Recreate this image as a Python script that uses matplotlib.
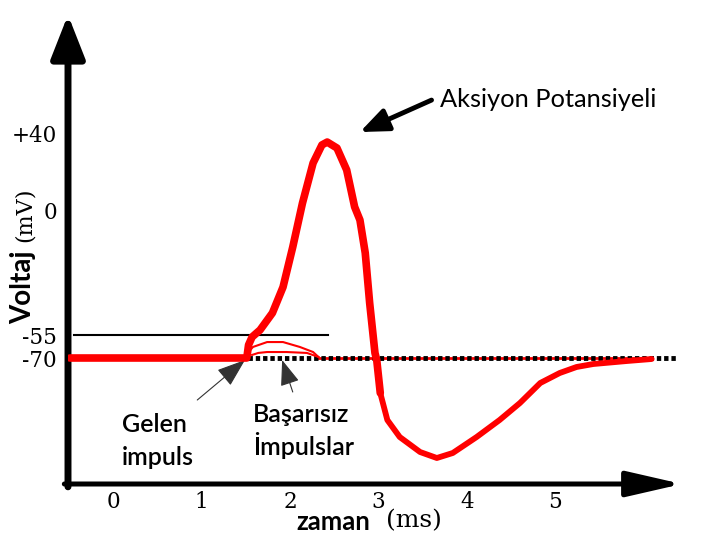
import numpy as np
import matplotlib
matplotlib.use("Agg")
import matplotlib.pyplot as plt

# ---------------- data (time in ms, voltage in mV) ----------------
ap_time = [-0.49, 1.51, 1.53, 1.57, 1.66, 1.80, 1.92, 2.03, 2.14, 2.26, 2.36, 2.42,
           2.53, 2.64, 2.73, 2.79, 2.85, 2.90, 2.96, 2.98, 3.02, 3.10, 3.24, 3.47,
           3.66, 3.84, 4.11, 4.37, 4.60, 4.83, 5.05, 5.24, 5.43, 5.81, 6.09]
ap_voltage = [-70, -70, -61.5, -56.3, -52.8, -45.3, -33.9, -16.3, 3.6, 24.4, 33.8, 35.3,
              32.2, 20.8, 1.6, -4.4, -18.9, -40.9, -66.7, -71, -87.5, -101, -109.5, -117,
              -120, -117.5, -109.5, -101, -92.5, -82.5, -77.5, -74.5, -73, -71.5, -70.5]

fail1_time = [1.55, 1.58, 1.74, 1.92, 2.11, 2.26, 2.32]
fail1_voltage = [-64.8, -62.8, -59.6, -59.6, -62.8, -66.1, -69.3]
fail2_time = [1.57, 1.64, 1.74, 1.96, 2.19, 2.32]
fail2_voltage = [-68.0, -66.7, -66.1, -66.1, -66.7, -69.3]

rest_potential = -70
threshold = -55
threshold_span = [-0.44, 2.43]
rest_dotted_span = [1.52, 6.39]
rest_red_span = [2.31, 6.09]

x_ticks = [0, 1, 2, 3, 4, 5]
x_tick_labels = ["0", "1", "2", "3", "4", "5"]
y_ticks = [-70, -55, 0, 40]
y_tick_labels = ["-70", "-55", "0", "+40"]

# ---------------- non-uniform voltage axis (as drawn in the reference) ----------------
_knot_v = np.array([-300.0, -70.0, -55.0, 0.0, 40.0, 300.0])
_knot_u = np.array([-818.0, -358.0, -335.0, -210.0, -133.0, 367.5])


def fwd(v):
    return np.interp(v, _knot_v, _knot_u)


def inv(u):
    return np.interp(u, _knot_u, _knot_v)


RED = "#ff0000"
SERIF = "DejaVu Serif"
SANS = "Lato"

fig = plt.figure(figsize=(7.2, 5.4), dpi=100)
ax = fig.add_axes([68 / 720, 56 / 540, 614 / 720, 472 / 540])
ax.set_yscale("function", functions=(fwd, inv))
ax.set_xlim(-0.5124, 6.4332)
ax.set_ylim(-133, 102.86)
for s in ax.spines.values():
    s.set_visible(False)

ax.set_xticks(x_ticks)
ax.set_xticklabels(x_tick_labels, fontfamily=SERIF, fontsize=15.5)
ax.set_yticks(y_ticks)
ax.set_yticklabels(y_tick_labels, fontfamily=SERIF, fontsize=15.5)
ax.tick_params(axis="x", length=0, pad=5)
ax.tick_params(axis="y", length=0, pad=8)
ax.minorticks_off()

# axes drawn as arrows
ax.annotate("", xy=(1.0, 0.0), xytext=(-0.006, 0.0), xycoords="axes fraction",
            textcoords="axes fraction", annotation_clip=False,
            arrowprops=dict(arrowstyle="-|>,head_length=3.4,head_width=0.78",
                            mutation_scale=10, lw=3.6, color="black",
                            shrinkA=0, shrinkB=0))
ax.annotate("", xy=(0.0, 0.994), xytext=(0.0, -0.006), xycoords="axes fraction",
            textcoords="axes fraction", annotation_clip=False,
            arrowprops=dict(arrowstyle="-|>,head_length=2.65,head_width=1.04",
                            mutation_scale=10, lw=5.0, color="black",
                            shrinkA=0, shrinkB=0))

# threshold line
ax.plot(threshold_span, [threshold, threshold], color="black", lw=1.5, zorder=2)

# thin red resting line under the dotted line
ax.plot(rest_red_span, [rest_potential, rest_potential], color=RED, lw=2.0, zorder=2)
# dotted resting line
ax.plot(rest_dotted_span, [rest_potential, rest_potential], color="black", lw=3.5,
        linestyle=(0, (0.9, 0.6)), dash_capstyle="butt", zorder=3)

# failed impulses
ax.plot(fail1_time, fail1_voltage, color=RED, lw=1.5, zorder=3)
ax.plot(fail2_time, fail2_voltage, color=RED, lw=1.5, zorder=3)

# action potential
k = 21
ax.plot(ap_time[:k], ap_voltage[:k], color=RED, lw=5.5, solid_joinstyle="round",
        solid_capstyle="round", zorder=4)
ax.plot(ap_time[k - 1:], ap_voltage[k - 1:], color=RED, lw=4.2, solid_joinstyle="round",
        solid_capstyle="round", zorder=4)

# annotations
ax.annotate("", xy=(2.79, 40.5), xytext=(3.60, 57.1),
            arrowprops=dict(arrowstyle="-|>,head_length=1.7,head_width=0.7",
                            mutation_scale=10, lw=3.5, color="black",
                            shrinkA=0, shrinkB=0))
ax.text(3.70, 53.5, "Aksiyon Potansiyeli", fontfamily=SANS, fontsize=18.3,
        ha="left", va="baseline")

ax.annotate("", xy=(1.49, -71), xytext=(0.95, -91), annotation_clip=False,
            arrowprops=dict(arrowstyle="-|>,head_length=1.8,head_width=0.65",
                            mutation_scale=10, lw=0.8, color="#333333",
                            shrinkA=0, shrinkB=0))
ax.annotate("", xy=(1.91, -71), xytext=(2.03, -87), annotation_clip=False,
            arrowprops=dict(arrowstyle="-|>,head_length=1.6,head_width=0.6",
                            mutation_scale=10, lw=0.8, color="#333333",
                            shrinkA=0, shrinkB=0))

ax.text(0.10, -107, "Gelen", fontfamily=SANS, fontsize=18, fontweight="semibold",
        ha="left", va="baseline")
ax.text(0.10, -123.5, "impuls", fontfamily=SANS, fontsize=18, fontweight="semibold",
        ha="left", va="baseline")
ax.text(1.58, -102, "Başarısız", fontfamily=SANS, fontsize=18, fontweight="semibold",
        ha="left", va="baseline")
ax.text(1.58, -118.5, "İmpulslar", fontfamily=SANS, fontsize=18, fontweight="semibold",
        ha="left", va="baseline")

# axis titles
fig.text(23 / 720, 1 - 287 / 540, "Voltaj", rotation=90, fontfamily=SANS,
         fontsize=20, fontweight="bold", ha="center", va="center")
fig.text(25 / 720, 1 - 215 / 540, "(mV)", rotation=90, fontfamily=SERIF,
         fontsize=16, ha="center", va="center")
fig.text(333 / 720, 1 - 522 / 540, "zaman", fontfamily=SANS,
         fontsize=18.5, fontweight="bold", ha="center", va="center")
fig.text(414 / 720, 1 - 521 / 540, "(ms)", fontfamily=SERIF,
         fontsize=18, ha="center", va="center")

fig.savefig("out.png", dpi=100)
